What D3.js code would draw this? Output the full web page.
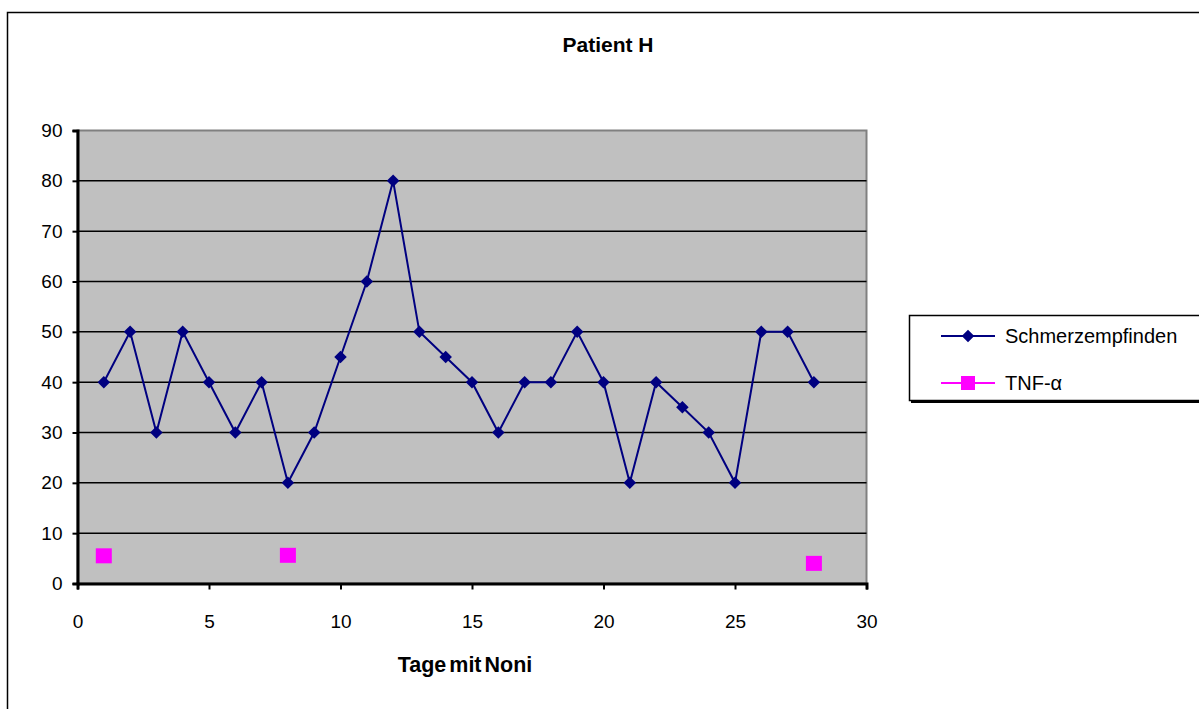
<!DOCTYPE html>
<html>
<head>
<meta charset="utf-8">
<script src="https://cdn.jsdelivr.net/npm/d3@7"></script>
<style>
  body { margin: 0; background: #fff; }
  svg { display: block; font-family: "Liberation Sans", Arial, sans-serif; }
</style>
</head>
<body>
<svg id="chart" width="1199" height="709"></svg>
<script>
// data
const painDays = [1, 2, 3, 4, 5, 6, 7, 8, 9, 10, 11, 12, 13, 14, 15, 16, 17, 18, 19, 20, 21, 22, 23, 24, 25, 26, 27, 28];
const painValues = [40, 50, 30, 50, 40, 30, 40, 20, 30, 45, 60, 80, 50, 45, 40, 30, 40, 40, 50, 40, 20, 40, 35, 30, 20, 50, 50, 40];
const tnfDays = [1, 8, 28];
const tnfValues = [5.5, 5.6, 4];
const xTicks = [0, 5, 10, 15, 20, 25, 30];
const yTicks = [0, 10, 20, 30, 40, 50, 60, 70, 80, 90];
const seriesNames = ['Schmerzempfinden', 'TNF-α'];

const svg = d3.select('#chart');
const plot = {left: 77.5, right: 866.5, top: 130.5, bottom: 583.5};

// outer chart border (runs off the right and bottom edge)
svg.append('rect')
  .attr('x', 7.5).attr('y', 12.5)
  .attr('width', 1200).attr('height', 710)
  .attr('fill', '#fff').attr('stroke', '#000').attr('stroke-width', 1.5);

const x = d3.scaleLinear().domain([0, 30]).range([plot.left, plot.right]);
const y = d3.scaleLinear().domain([0, 90]).range([plot.bottom, plot.top]);

// plot background
svg.append('rect')
  .attr('x', plot.left).attr('y', plot.top)
  .attr('width', plot.right - plot.left).attr('height', plot.bottom - plot.top)
  .attr('fill', '#c0c0c0').attr('stroke', '#808080').attr('stroke-width', 2);

// gridlines
svg.append('g')
  .selectAll('line')
  .data(yTicks.filter(d => d > 0 && d < 90))
  .join('line')
  .attr('x1', plot.left).attr('x2', plot.right)
  .attr('y1', d => y(d)).attr('y2', d => y(d))
  .attr('stroke', '#000').attr('stroke-width', 1.5);

// axes
const yAxis = svg.append('g')
  .attr('transform', `translate(${plot.left},0)`)
  .call(d3.axisLeft(y).tickValues(yTicks).tickSize(5).tickPadding(10));

const xAxis = svg.append('g')
  .attr('transform', `translate(0,${plot.bottom})`)
  .call(d3.axisBottom(x).tickValues(xTicks).tickSize(6).tickPadding(25));

[yAxis, xAxis].forEach(function(ax){
  ax.select('.domain').attr('stroke', '#000').attr('stroke-width', 3);
  ax.selectAll('.tick line').attr('stroke', '#000').attr('stroke-width', 2);
  ax.selectAll('.tick text')
    .attr('fill', '#000')
    .style('font-size', '19px')
    .style('font-family', '"Liberation Sans", Arial, sans-serif');
});

// pain line
const line = d3.line()
  .x((d, i) => x(painDays[i]))
  .y(d => y(d));

svg.append('path')
  .datum(painValues)
  .attr('d', line)
  .attr('fill', 'none')
  .attr('stroke', '#000080')
  .attr('stroke-width', 2);

const diamond = d3.symbol().type(d3.symbolDiamond2).size(100);

svg.append('g')
  .selectAll('path')
  .data(painValues)
  .join('path')
  .attr('d', diamond)
  .attr('transform', (d, i) => `translate(${x(painDays[i])},${y(d)})`)
  .attr('fill', '#000080');

// TNF markers
svg.append('g')
  .selectAll('rect')
  .data(tnfValues)
  .join('rect')
  .attr('x', (d, i) => x(tnfDays[i]) - 8)
  .attr('y', d => y(d) - 7.5)
  .attr('width', 16).attr('height', 15)
  .attr('fill', '#ff00ff');

// title and axis title
svg.append('text')
  .attr('x', 608).attr('y', 52)
  .attr('text-anchor', 'middle')
  .style('font-size', '21px').style('font-weight', 'bold')
  .text('Patient H');

svg.append('text')
  .attr('x', 465).attr('y', 672)
  .attr('text-anchor', 'middle')
  .style('font-size', '21.5px').style('font-weight', 'bold')
  .style('word-spacing', '-3px')
  .text('Tage mit Noni');

// legend
const legend = svg.append('g');
legend.append('rect')
  .attr('x', 911).attr('y', 317)
  .attr('width', 300).attr('height', 86)
  .attr('fill', '#000');
legend.append('rect')
  .attr('x', 909.5).attr('y', 315.5)
  .attr('width', 300).attr('height', 85)
  .attr('fill', '#fff').attr('stroke', '#000').attr('stroke-width', 1.5);

const legendColors = ['#000080', '#ff00ff'];
const legendY = [336, 383];

seriesNames.forEach(function(name, i){
  legend.append('line')
    .attr('x1', 941).attr('x2', 995)
    .attr('y1', legendY[i]).attr('y2', legendY[i])
    .attr('stroke', legendColors[i]).attr('stroke-width', 2);
  if(i == 0){
    legend.append('path')
      .attr('d', diamond)
      .attr('transform', `translate(968,${legendY[i]})`)
      .attr('fill', legendColors[i]);
  }
  else{
    legend.append('rect')
      .attr('x', 961).attr('y', legendY[i] - 7)
      .attr('width', 14).attr('height', 14)
      .attr('fill', legendColors[i]);
  }
  legend.append('text')
    .attr('x', 1005).attr('y', legendY[i] + 7)
    .style('font-size', '20px')
    .text(name);
});
</script>
</body>
</html>
